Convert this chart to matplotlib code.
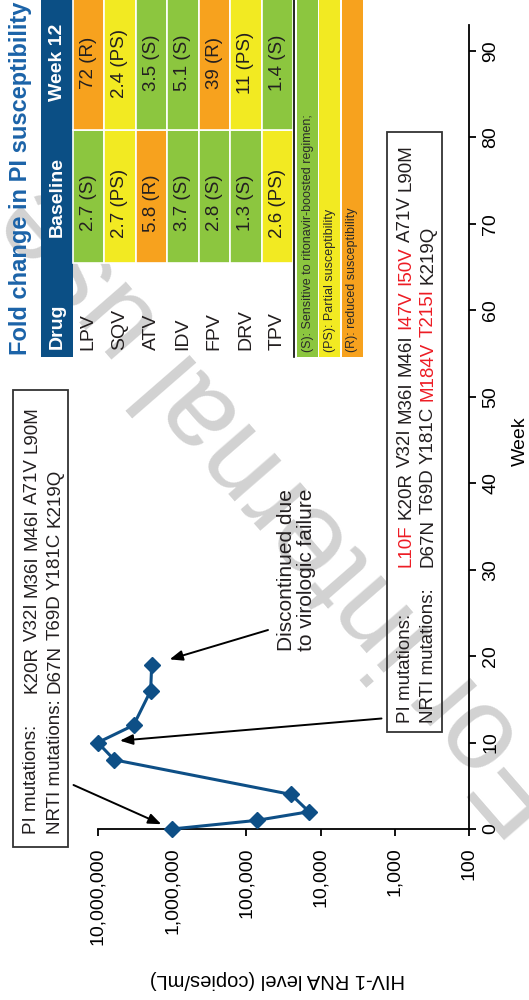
import matplotlib

matplotlib.use("Agg")
import matplotlib.pyplot as plt
import matplotlib.transforms as mtransforms
from matplotlib.font_manager import FontProperties
from matplotlib.lines import Line2D
from matplotlib.patches import Rectangle
from matplotlib.ticker import FixedLocator, FuncFormatter, NullLocator

plt.rcParams["font.family"] = ["Liberation Sans", "DejaVu Sans"]

# viral load course
weeks = [0, 1, 2, 4, 8, 10, 12, 16, 19]
rna_copies = [1_000_000, 72_000, 14_300, 25_000, 6_000_000, 10_000_000, 3_300_000, 1_940_000, 1_880_000]
rna_ticks = [100, 1_000, 10_000, 100_000, 1_000_000, 10_000_000]
week_ticks = [0, 10, 20, 30, 40, 50, 60, 70, 80, 90]

# fold change table
drugs = ["LPV", "SQV", "ATV", "IDV", "FPV", "DRV", "TPV"]
baseline_fc = ["2.7", "2.7", "5.8", "3.7", "2.8", "1.3", "2.6"]
baseline_cat = ["S", "PS", "R", "S", "S", "S", "PS"]
week12_fc = ["72", "2.4", "3.5", "5.1", "39", "11", "1.4"]
week12_cat = ["R", "PS", "S", "S", "R", "PS", "S"]
legend_cats = ["S", "PS", "R"]
legend_text = [
    "(S): Sensitive to ritonavir-boosted regimen;",
    "(PS): Partial susceptibility",
    "(R): reduced susceptibility",
]

# genotypes
base_pi = ["K20R", "V32I", "M36I", "M46I", "A71V", "L90M"]
base_nrti = ["D67N", "T69D", "Y181C", "K219Q"]
wk12_pi = ["L10F", "K20R", "V32I", "M36I", "M46I", "I47V", "I50V", "A71V", "L90M"]
wk12_nrti = ["D67N", "T69D", "Y181C", "M184V", "T215I", "K219Q"]
new_mutations = {"L10F", "I47V", "I50V", "M184V", "T215I"}

CAT_COLORS = {"S": "#8cc63f", "PS": "#f2ea22", "R": "#f7a21e"}
HEADER_BLUE = "#0b4f85"
TITLE_BLUE = "#1b63a8"
LINE_BLUE = "#0e4f86"
TEXT = "#231f20"

fig = plt.figure(figsize=(5.29, 10.0), dpi=100)
# pixel coordinates, origin top-left
PX = mtransforms.Affine2D().scale(1 / 529, -1 / 1000).translate(0, 1) + fig.transFigure

fig.text(283, 507, "For internal use", transform=PX, rotation=131, ha="center", va="center",
         fontsize=84, color="#d2d2d2", zorder=-5)

ax = fig.add_axes([97.8 / 529, 0.171, (469 - 97.8) / 529, 0.804])
ax.patch.set_visible(False)
ax.plot(rna_copies, weeks, color=LINE_BLUE, lw=2.2, marker="D", ms=8, mec=LINE_BLUE, clip_on=False, zorder=3)
ax.set_xscale("log")
ax.set_xlim(1e7, 1e2)
ax.set_ylim(0, 93)
ax.xaxis.set_major_locator(FixedLocator(rna_ticks))
ax.xaxis.set_minor_locator(NullLocator())
ax.xaxis.set_major_formatter(FuncFormatter(lambda v, _: f"{int(round(v)):,}"))
ax.set_yticks(week_ticks)
ax.yaxis.tick_right()
for side in ["left", "top"]:
    ax.spines[side].set_visible(False)
for side in ["bottom", "right"]:
    ax.spines[side].set_linewidth(1.3)
ax.tick_params(axis="x", length=5, width=1.3, pad=8, labelsize=14, labelrotation=90)
ax.tick_params(axis="y", length=5, width=1.3, pad=4.5, labelsize=14, labelrotation=90)
for lab in ax.get_yticklabels():
    lab.set_va("center")

fig.text(520, 441, "Week", transform=PX, rotation=90, ha="center", va="center", fontsize=14)
fig.text(277, 980, "HIV-1 RNA level (copies/mL)", transform=PX, rotation=180,
         ha="center", va="center", fontsize=14.5)

# susceptibility table
fig.text(20, 355, "Fold change in PI susceptibility", transform=PX, rotation=90, rotation_mode="anchor",
         ha="left", va="center", fontsize=17, fontweight="bold", color=TITLE_BLUE)
fig.add_artist(Rectangle((40.5, -2), 32, 359, transform=PX, facecolor=HEADER_BLUE, edgecolor="none", zorder=1))
head_kw = dict(transform=PX, rotation=90, color="white", fontweight="bold", fontsize=14, zorder=4)
fig.text(57, 349, "Drug", rotation_mode="anchor", ha="left", va="center", **head_kw)
fig.text(57, 197, "Baseline", ha="center", va="center", **head_kw)
fig.text(57, 62, "Week 12", ha="center", va="center", **head_kw)

row_w = 31.5
for i, drug in enumerate(drugs):
    x0 = 72.5 + i * row_w
    xc = x0 + row_w / 2
    fig.add_artist(Rectangle((x0, 130), row_w, 133, transform=PX, facecolor=CAT_COLORS[baseline_cat[i]],
                             edgecolor="white", lw=1.2, zorder=1))
    fig.add_artist(Rectangle((x0, -3), row_w, 133, transform=PX, facecolor=CAT_COLORS[week12_cat[i]],
                             edgecolor="white", lw=1.2, zorder=1))
    fig.text(xc, 350, drug, transform=PX, rotation=90, rotation_mode="anchor", ha="left", va="center",
             fontsize=14, color=TEXT)
    fig.text(xc, 203, f"{baseline_fc[i]} ({baseline_cat[i]})", transform=PX, rotation=90,
             ha="center", va="center", fontsize=13.5, color=TEXT, zorder=4)
    fig.text(xc, 63, f"{week12_fc[i]} ({week12_cat[i]})", transform=PX, rotation=90,
             ha="center", va="center", fontsize=13.5, color=TEXT, zorder=4)
fig.add_artist(Line2D([293.5, 293.5], [0, 357], transform=PX, color="black", lw=1.2))

for j, (cat, label) in enumerate(zip(legend_cats, legend_text)):
    x0 = 297 + j * 22.3
    fig.add_artist(Rectangle((x0, -2), 21, 359, transform=PX, facecolor=CAT_COLORS[cat],
                             edgecolor="none", zorder=1))
    fig.text(x0 + 10.5, 352, label, transform=PX, rotation=90, rotation_mode="anchor", ha="left",
             va="center", fontsize=9, color="#2a2a2a", zorder=4)

# mutation boxes
renderer = fig.canvas.get_renderer()
box_font = FontProperties(family=["Liberation Sans", "DejaVu Sans"], size=13.5)


def text_width(s):
    return renderer.get_text_width_height_descent(s, box_font, ismath=False)[0]


def mutation_line(x, y, tokens):
    for i, tok in enumerate(tokens):
        offset = 0 if i == 0 else text_width(" ".join(tokens[: i + 1])) - text_width(tok)
        color = "#ed1c24" if tok in new_mutations else TEXT
        fig.text(x, y - offset, tok, transform=PX, rotation=90, rotation_mode="anchor",
                 ha="left", va="baseline", fontproperties=box_font, color=color)


def mutation_box(x0, y0, x1, y1, base1, base2, label_y, muts_y, pi, nrti):
    fig.add_artist(Rectangle((x0, y0), x1 - x0, y1 - y0, transform=PX, facecolor="none",
                             edgecolor="#333333", lw=1.3))
    for xb, label in [(base1, "PI mutations:"), (base2, "NRTI mutations:")]:
        fig.text(xb, label_y, label, transform=PX, rotation=90, rotation_mode="anchor",
                 ha="left", va="baseline", fontproperties=box_font, color=TEXT)
    mutation_line(base1, muts_y, pi)
    mutation_line(base2, muts_y, nrti)


mutation_box(12.5, 390, 68, 847, 36.5, 59.5, 834, 693, base_pi, base_nrti)
mutation_box(387, 132, 442, 732, 410, 433, 723, 567, wk12_pi, wk12_nrti)

arrow_kw = dict(arrowstyle="-|>,head_length=0.55,head_width=0.22", color="black", lw=1.4,
                shrinkA=0, mutation_scale=14)
ax.annotate("", xy=(rna_copies[0], weeks[0]), xytext=(73.5, 785), textcoords=PX,
            arrowprops=dict(shrinkB=8.5, **arrow_kw), annotation_clip=False)
ax.annotate("", xy=(rna_copies[5], weeks[5]), xytext=(381.5, 718.5), textcoords=PX,
            arrowprops=dict(shrinkB=16, **arrow_kw), annotation_clip=False)
ax.annotate("", xy=(rna_copies[-1], weeks[-1]), xytext=(268, 630), textcoords=PX,
            arrowprops=dict(shrinkB=13.5, **arrow_kw), annotation_clip=False)
fig.text(277, 651, "Discontinued due\nto virologic failure", transform=PX, rotation=90,
         rotation_mode="anchor", ha="left", va="top", fontsize=15, linespacing=1.1, color=TEXT)

fig.savefig("out.png", dpi=100)
